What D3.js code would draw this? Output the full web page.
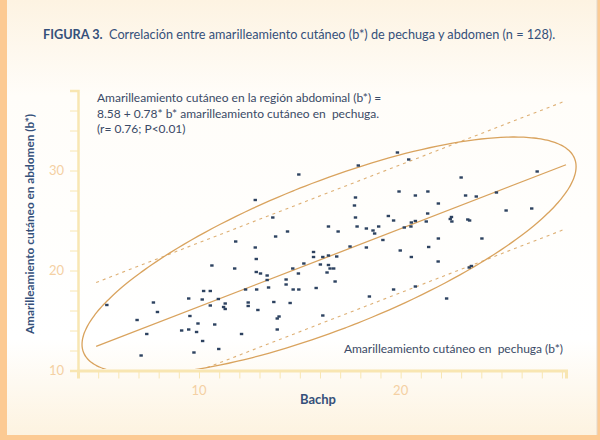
<!DOCTYPE html>
<html>
<head>
<meta charset="utf-8">
<script src="https://cdn.jsdelivr.net/npm/d3@7"></script>
<style>
  body { margin: 0; background: #fcca93; }
  svg { display: block; font-family: Lato, "Open Sans", sans-serif; }
</style>
</head>
<body>
<script>
// b* pechuga (Bachp), b* abdomen
const points = [
  [5.43,16.55],[7.74,16.8],[7.94,15.85],[6.93,15.05],[7.41,13.65],[7.13,11.5],[9.49,17.2],[10.23,17.95],
  [10.56,17.95],[10.16,17.1],[10.96,17.15],[10.56,16.5],[11.3,16.7],[11.22,16.35],[11.3,16.15],[9.55,15.45],
  [9.95,14.7],[10.78,14.6],[9.14,14.0],[9.49,14.1],[9.88,13.85],[10.18,12.95],[10.98,12.15],[9.75,11.8],
  [10.64,20.5],[11.77,20.2],[12.84,21.15],[12.84,19.85],[13.05,19.7],[13.38,19.5],[13.38,19.05],[12.31,18.1],
  [12.86,18.1],[13.45,18.3],[13.71,16.85],[12.44,16.8],[12.44,16.45],[12.92,16.05],[12.11,13.65],[13.88,15.2],
  [13.97,15.4],[13.88,14.1],
  [15.68,21.85],[15.68,21.35],[16.14,21.35],[16.42,21.5],[16.83,21.4],[15.2,20.7],[16.02,20.6],[16.42,20.55],
  [16.5,20.2],[16.68,20.2],[14.65,20.2],[14.93,19.7],[16.35,19.8],[16.75,18.9],[14.32,19.1],[14.32,18.6],
  [14.67,18.1],[14.95,18.1],[15.81,18.25],[14.52,16.75],[16.14,15.5],[18.45,17.4],[19.65,18.1],[20.73,18.4],
  [22.28,17.2],[19.98,22.0],[20.53,21.35],[21.86,20.9],
  [17.9,30.5],[14.95,29.6],[12.79,27.05],[13.66,25.3],[11.82,22.9],[12.79,22.3],[13.8,23.4],[14.39,23.9],
  [16.42,24.4],[16.9,23.9],[17.76,27.3],[17.71,26.5],[17.76,25.3],[17.84,24.4],[18.3,24.2],[18.63,24.0],
  [18.71,23.7],[18.91,24.4],[17.49,22.4],[18.3,22.3],
  [19.84,31.8],[20.4,31.1],[23.0,29.3],[26.77,29.9],[19.92,27.9],[20.73,27.5],[21.35,27.9],[21.87,26.7],
  [23.22,27.5],[23.75,27.4],[24.75,27.8],[25.23,26.0],[26.5,26.2],[19.39,25.45],[19.65,25.0],[19.12,23.05],
  [20.18,24.3],[20.51,24.4],[20.53,24.8],[20.73,24.95],[21.27,24.9],[21.34,25.7],[22.46,25.15],[22.54,24.9],
  [22.52,25.35],[23.33,25.1],[23.42,25.0],[24.03,23.2],[21.87,23.2],[21.39,22.35],
  [23.51,20.45],[23.4,20.3]
];

const intercept = 8.58;
const slope = 0.78;
const bandOffset = 6.4;
const lineRange = [4.9, 28.2];

// confidence ellipse: centre, half widths, phase between x and y
const ellipseCentre = [16.45, 21.5];
const ellipseHalf = [12.25, 11.85];
const ellipseCos = 0.75;

const xTicks = d3.range(5, 29);
const yTicks = d3.range(10, 39, 2);
const xLabels = [10, 20];
const yLabels = [10, 20, 30];

const w = 600, h = 440;
const ink = "#35507a";
const lineCol = "#d9a35e";
const axisCol = "#f8e6b2";
const tickLabelCol = "#f4d0a3";

const svg = d3.select("body").append("svg").attr("width", w).attr("height", h);

// panel background
const defs = svg.append("defs");
const grad = defs.append("linearGradient").attr("id", "bg").attr("x1", 0).attr("y1", 0).attr("x2", 0).attr("y2", 1);
grad.append("stop").attr("offset", "0%").attr("stop-color", "#fdf3e2");
grad.append("stop").attr("offset", "22%").attr("stop-color", "#fffdf9");
grad.append("stop").attr("offset", "78%").attr("stop-color", "#ffffff");
grad.append("stop").attr("offset", "100%").attr("stop-color", "#fdf3e0");
svg.append("rect").attr("x", 7).attr("y", 0).attr("width", 590).attr("height", 435).attr("fill", "url(#bg)");
svg.append("line").attr("x1", 597).attr("x2", 597).attr("y1", 0).attr("y2", 435)
  .attr("stroke", "#e2d8cc").attr("stroke-width", 1);

const x = d3.scaleLinear().domain([4, 28.2]).range([78, 566]);
const y = d3.scaleLinear().domain([10, 38]).range([370.5, 90.5]);

// title
const title = svg.append("text").attr("x", 43).attr("y", 39).attr("font-size", 12.7).attr("fill", ink);
title.append("tspan").attr("font-weight", "bold").text("FIGURA 3.");
title.append("tspan").text("\u00a0 Correlación entre amarilleamiento cutáneo (b*) de pechuga y abdomen (n = 128).");

// axes
const xAxis = svg.append("g").attr("transform", "translate(0," + y(10) + ")")
  .call(d3.axisBottom(x).tickValues(xTicks).tickSize(8).tickFormat(""));
xAxis.select(".domain").attr("stroke", axisCol).attr("stroke-width", 3);
xAxis.selectAll(".tick line").attr("stroke", axisCol).attr("stroke-width", 1);

const yAxis = svg.append("g").attr("transform", "translate(" + x(4) + ",0)")
  .call(d3.axisLeft(y).tickValues(yTicks).tickSize(8).tickFormat(""));
yAxis.select(".domain").attr("stroke", axisCol).attr("stroke-width", 2.5);
yAxis.selectAll(".tick line").attr("stroke", axisCol).attr("stroke-width", 1);

svg.selectAll(".xlab").data(xLabels).enter().append("text")
  .attr("x", d => x(d)).attr("y", 395).attr("text-anchor", "middle")
  .attr("font-size", 13).attr("fill", tickLabelCol).text(d => d);
svg.selectAll(".ylab").data(yLabels).enter().append("text")
  .attr("x", 64).attr("y", d => y(d) + 4.5).attr("text-anchor", "end")
  .attr("font-size", 13).attr("fill", tickLabelCol).text(d => d);

// clip to the plot region above the x axis
defs.append("clipPath").attr("id", "plot").append("rect")
  .attr("x", x(4)).attr("y", 0).attr("width", 600 - x(4)).attr("height", y(10) - 1.5);

const plot = svg.append("g").attr("clip-path", "url(#plot)");

// ellipse
const delta = Math.acos(ellipseCos);
const ellipsePts = d3.range(0, 361, 2).map(a => {
  const t = a * Math.PI / 180;
  return [ellipseCentre[0] + ellipseHalf[0] * Math.cos(t), ellipseCentre[1] + ellipseHalf[1] * Math.cos(t - delta)];
});
plot.append("path")
  .attr("d", d3.line().x(d => x(d[0])).y(d => y(d[1])).curve(d3.curveCardinalClosed)(ellipsePts))
  .attr("fill", "none").attr("stroke", lineCol).attr("stroke-width", 1.3);

// regression and dashed bands
const fit = v => intercept + slope * v;
[0, bandOffset, -bandOffset].forEach(off => {
  plot.append("line")
    .attr("x1", x(lineRange[0])).attr("y1", y(fit(lineRange[0]) + off))
    .attr("x2", x(lineRange[1])).attr("y2", y(fit(lineRange[1]) + off))
    .attr("stroke", lineCol)
    .attr("stroke-width", off === 0 ? 1.3 : 1.1)
    .attr("stroke-dasharray", off === 0 ? null : "3,4")
    .attr("opacity", off === 0 ? 1 : 0.85);
});

// points
plot.selectAll("rect.pt").data(points).enter().append("rect")
  .attr("class", "pt")
  .attr("x", d => x(d[0]) - 1.7).attr("y", d => y(d[1]) - 1.2)
  .attr("width", 3.4).attr("height", 2.4)
  .attr("fill", "#2d4260");

// annotation
const note = ["Amarilleamiento cutáneo en la región abdominal (b*) =",
              "8.58 + 0.78* b* amarilleamiento cutáneo en  pechuga.",
              "(r= 0.76; P<0.01)"];
svg.selectAll(".note").data(note).enter().append("text")
  .attr("x", 97).attr("y", (d, i) => 102 + i * 15.5)
  .attr("font-size", 12).attr("fill", "#3a4a66")
  .style("white-space", "pre").text(d => d);

svg.append("text").attr("x", 563).attr("y", 353).attr("text-anchor", "end")
  .attr("font-size", 12).attr("fill", "#3a4a66")
  .style("white-space", "pre").text("Amarilleamiento cutáneo en  pechuga (b*)");

svg.append("text").attr("x", 318).attr("y", 404).attr("text-anchor", "middle")
  .attr("font-size", 13).attr("font-weight", "bold").attr("fill", ink).text("Bachp");

svg.append("text").attr("transform", "translate(34,224) rotate(-90)").attr("text-anchor", "middle")
  .attr("font-size", 11.8).attr("font-weight", "bold").attr("fill", ink)
  .text("Amarilleamiento cutáneo en abdomen (b*)");
</script>
</body>
</html>
